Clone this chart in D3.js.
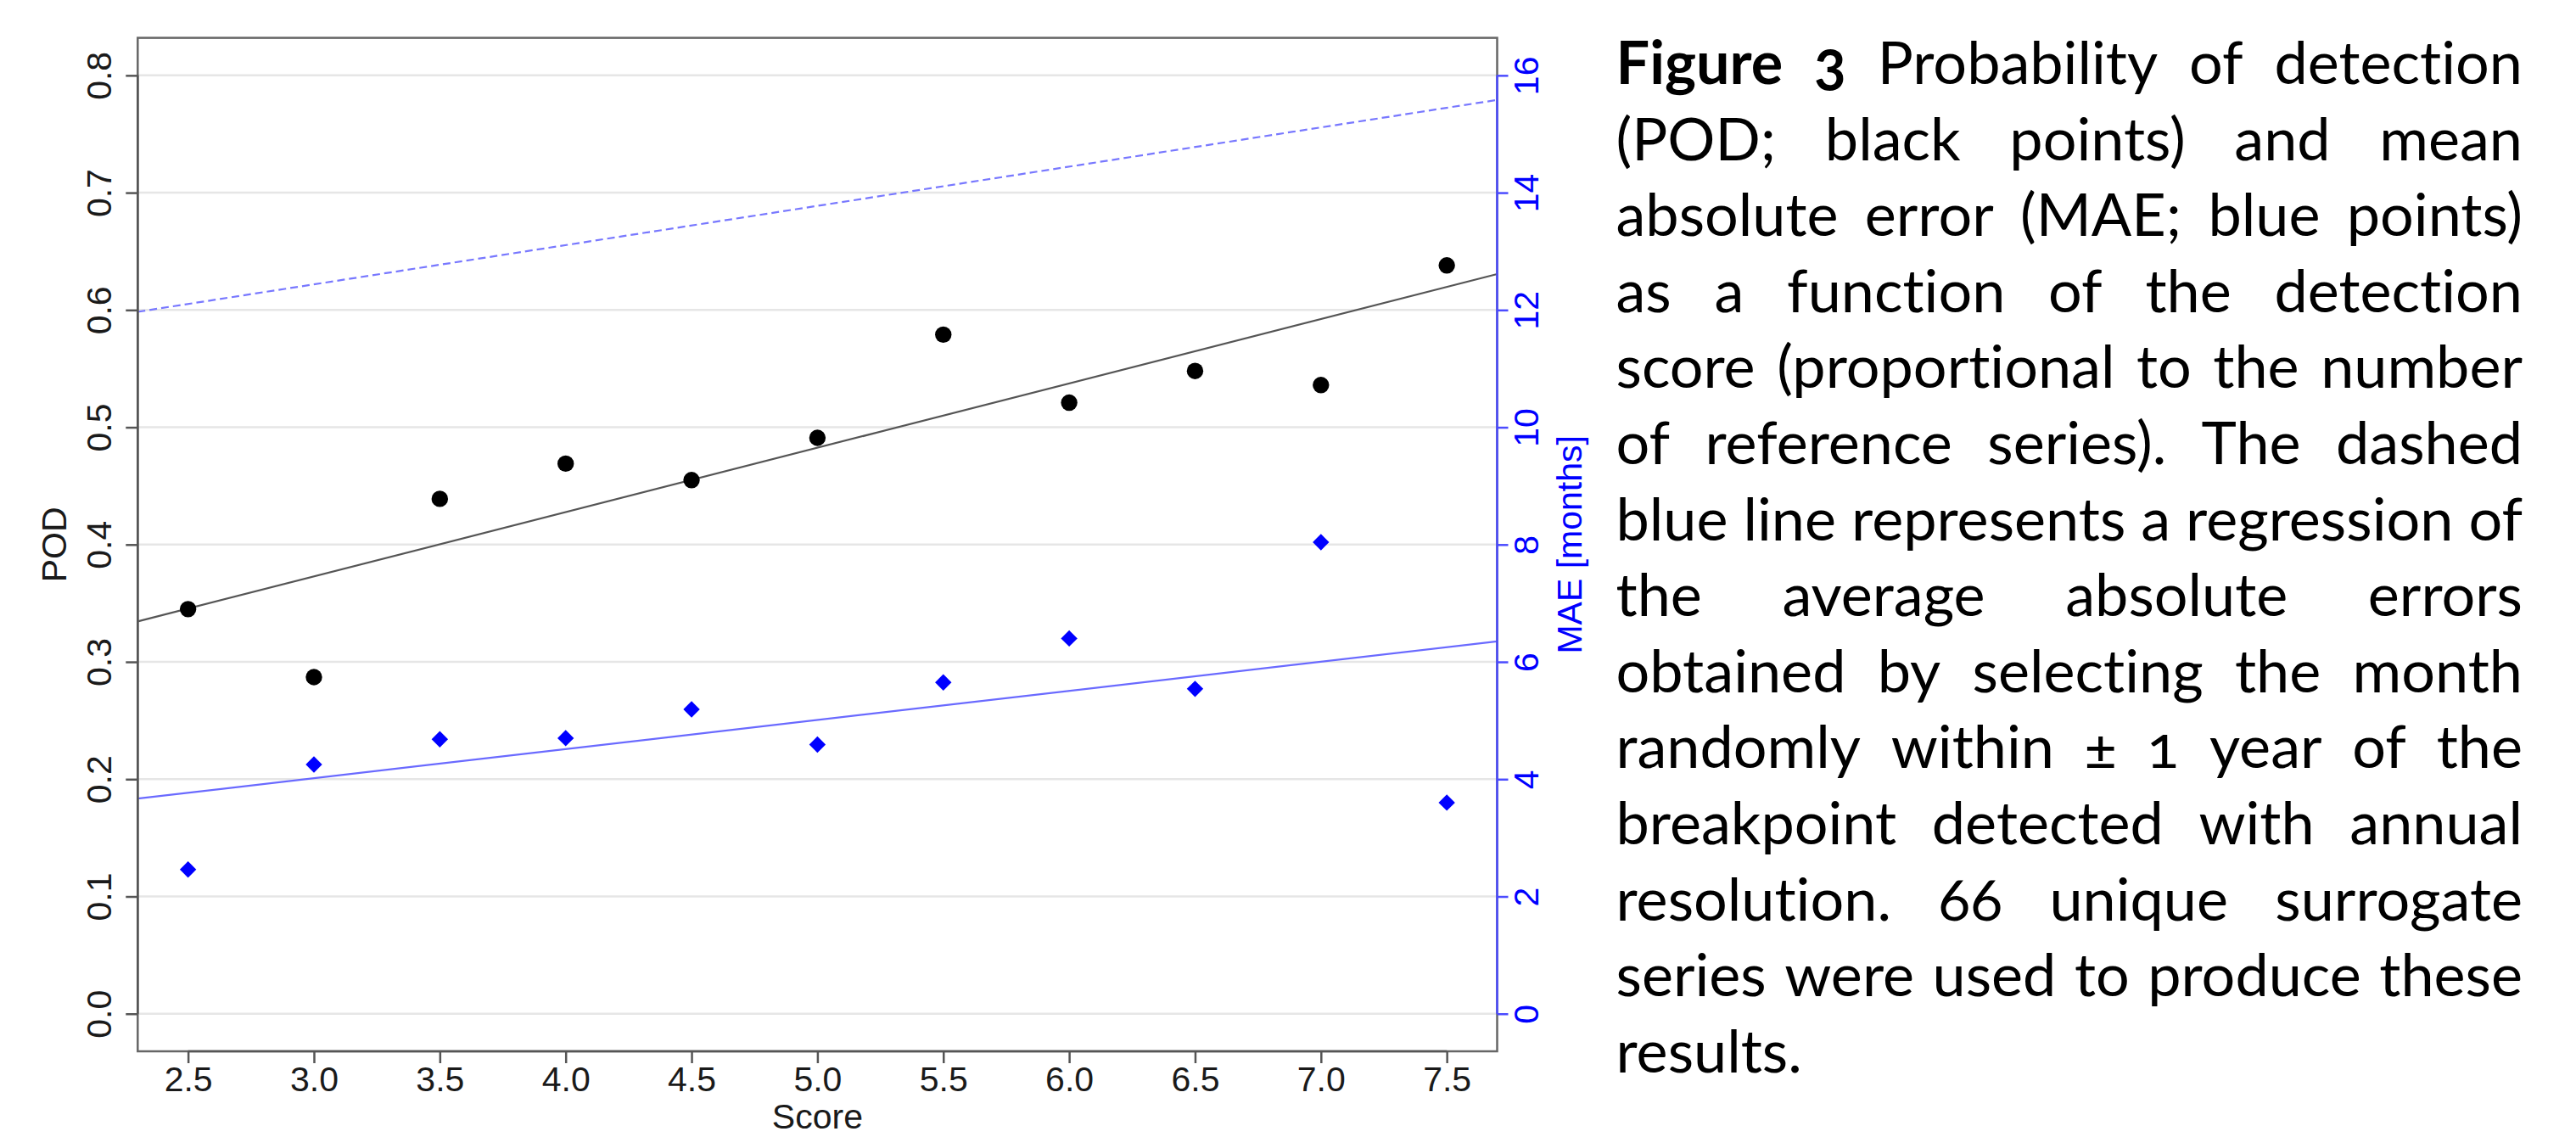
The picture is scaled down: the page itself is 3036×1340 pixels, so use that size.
<!DOCTYPE html>
<html>
<head>
<meta charset="utf-8">
<script src="https://cdn.jsdelivr.net/npm/d3@7"></script>
<style>
  html, body { margin: 0; padding: 0; background: #fff; }
  svg { display: block; }
</style>
</head>
<body>
<svg id="chart" width="3036" height="1340"></svg>
<script>
// detection score classes (x)
const scores = [2.5, 3.0, 3.5, 4.0, 4.5, 5.0, 5.5, 6.0, 6.5, 7.0, 7.5];
// probability of detection (black points)
const podValues = [0.345, 0.287, 0.439, 0.469, 0.455, 0.491, 0.579, 0.521, 0.548, 0.536, 0.638];
// mean absolute error in months (blue points)
const maeValues = [2.46, 4.25, 4.68, 4.70, 5.19, 4.59, 5.65, 6.40, 5.54, 8.04, 3.60];
// regression of MAE for a random month within +-1 year (dashed line)
const randomMaeIntercept = 10.43;
const randomMaeSlope = 0.669;

const podTicks = [0, 0.1, 0.2, 0.3, 0.4, 0.5, 0.6, 0.7, 0.8];
const maeTicks = [0, 2, 4, 6, 8, 10, 12, 14, 16];

const captionLines = [
  "Figure 3 Probability of detection",
  "(POD; black points) and mean",
  "absolute error (MAE; blue points)",
  "as a function of the detection",
  "score (proportional to the number",
  "of reference series). The dashed",
  "blue line represents a regression of",
  "the average absolute errors",
  "obtained by selecting the month",
  "randomly within \u00b1 1 year of the",
  "breakpoint detected with annual",
  "resolution. 66 unique surrogate",
  "series were used to produce these",
  "results."
];

const svg = d3.select('#chart');
const plot = { left: 162.3, right: 1764.5, top: 44.6, bottom: 1239 };
const chartFont = "'Liberation Sans', Arial, Helvetica, sans-serif";
const fontSize = 41;

// R style axes: data range padded by 4% on each side
const pad = ([a, b]) => { const r = b - a; return [a - 0.04 * r, b + 0.04 * r]; };

const x = d3.scaleLinear().domain(pad(d3.extent(scores))).range([plot.left, plot.right]);
const yPod = d3.scaleLinear().domain(pad([0, 0.8])).range([plot.bottom, plot.top]);
const yMae = d3.scaleLinear().domain(pad([0, 16])).range([plot.bottom, plot.top]);

// least squares fit
function fit(xs, ys) {
  const mx = d3.mean(xs), my = d3.mean(ys);
  const sxy = d3.sum(xs, (v, i) => (v - mx) * (ys[i] - my));
  const sxx = d3.sum(xs, v => (v - mx) * (v - mx));
  const slope = sxy / sxx;
  return { intercept: my - slope * mx, slope };
}
const podFit = fit(scores, podValues);
const maeFit = fit(scores, maeValues);
const xEnds = x.domain();

// grid
svg.append('g')
  .selectAll('line')
  .data(podTicks)
  .join('line')
    .attr('x1', plot.left).attr('x2', plot.right)
    .attr('y1', d => yPod(d)).attr('y2', d => yPod(d))
    .attr('stroke', '#e6e6e6')
    .attr('stroke-width', 2.5);

// regression lines
const line = (scale, f) => d3.line()
  .x(d => x(d))
  .y(d => scale(f.intercept + f.slope * d));

svg.append('path')
  .datum(xEnds)
  .attr('fill', 'none')
  .attr('stroke', '#7878ff')
  .attr('stroke-width', 2.2)
  .attr('stroke-dasharray', '9,5')
  .attr('d', line(yMae, { intercept: randomMaeIntercept, slope: randomMaeSlope }));

svg.append('path')
  .datum(xEnds)
  .attr('fill', 'none')
  .attr('stroke', '#555')
  .attr('stroke-width', 2.2)
  .attr('d', line(yPod, podFit));

svg.append('path')
  .datum(xEnds)
  .attr('fill', 'none')
  .attr('stroke', '#6a6aff')
  .attr('stroke-width', 2.2)
  .attr('d', line(yMae, maeFit));

// points
svg.append('g')
  .selectAll('circle')
  .data(scores)
  .join('circle')
    .attr('cx', d => x(d))
    .attr('cy', (d, i) => yPod(podValues[i]))
    .attr('r', 9.7)
    .attr('fill', '#000');

svg.append('g')
  .selectAll('path')
  .data(scores)
  .join('path')
    .attr('d', d3.symbol(d3.symbolSquare, 188))
    .attr('transform', (d, i) => `translate(${x(d)},${yMae(maeValues[i])}) rotate(45)`)
    .attr('fill', '#0000ff');

// box
svg.append('rect')
  .attr('x', plot.left).attr('y', plot.top)
  .attr('width', plot.right - plot.left).attr('height', plot.bottom - plot.top)
  .attr('fill', 'none')
  .attr('stroke', '#666')
  .attr('stroke-width', 2.5);

// axes
function styleAxis(g, color, textColor) {
  g.attr('font-family', chartFont).attr('font-size', fontSize);
  g.select('.domain').attr('stroke', color).attr('stroke-width', 2.5);
  g.selectAll('.tick line').attr('stroke', color).attr('stroke-width', 2.5);
  g.selectAll('.tick text').attr('fill', textColor);
}

const leftAxis = svg.append('g')
  .attr('transform', `translate(${plot.left},0)`)
  .call(d3.axisLeft(yPod).tickValues(podTicks).tickFormat(d3.format('.1f')).tickSize(14).tickSizeOuter(0))
  .call(g => styleAxis(g, '#555', '#1a1a1a'));
leftAxis.select('.domain').attr('d', `M0,${yPod(0)}V${yPod(0.8)}`);
leftAxis.selectAll('.tick text')
  .attr('x', 0).attr('dy', null)
  .attr('text-anchor', 'middle')
  .attr('transform', 'translate(-31,0) rotate(-90)');

const rightAxis = svg.append('g')
  .attr('transform', `translate(${plot.right},0)`)
  .call(d3.axisRight(yMae).tickValues(maeTicks).tickFormat(d3.format('d')).tickSize(13).tickSizeOuter(0))
  .call(g => styleAxis(g, '#4b4bff', '#0000ff'));
rightAxis.select('.domain').attr('d', `M0,${yMae(0)}V${yMae(16)}`);
rightAxis.selectAll('.tick text')
  .attr('x', 0).attr('dy', null)
  .attr('text-anchor', 'middle')
  .attr('transform', 'translate(48,0) rotate(-90)');

const bottomAxis = svg.append('g')
  .attr('transform', `translate(0,${plot.bottom})`)
  .call(d3.axisBottom(x).tickValues(scores).tickFormat(d3.format('.1f')).tickSize(14).tickSizeOuter(0))
  .call(g => styleAxis(g, '#555', '#1a1a1a'));
bottomAxis.select('.domain').attr('d', `M${x(2.5)},0H${x(7.5)}`);
bottomAxis.selectAll('.tick text').attr('y', 47).attr('dy', null);

// axis titles
const midY = (plot.top + plot.bottom) / 2;
svg.append('text')
  .attr('transform', `translate(78,${midY}) rotate(-90)`)
  .attr('text-anchor', 'middle')
  .attr('font-family', chartFont).attr('font-size', fontSize)
  .attr('fill', '#1a1a1a')
  .text('POD');

svg.append('text')
  .attr('transform', `translate(1864,${midY}) rotate(-90)`)
  .attr('text-anchor', 'middle')
  .attr('font-family', chartFont).attr('font-size', fontSize)
  .attr('fill', '#0000ff')
  .text('MAE [months]');

svg.append('text')
  .attr('x', (plot.left + plot.right) / 2)
  .attr('y', 1330)
  .attr('text-anchor', 'middle')
  .attr('font-family', chartFont).attr('font-size', fontSize)
  .attr('fill', '#1a1a1a')
  .text('Score');

// caption, justified word by word
const cap = { left: 1904.5, right: 2973, firstBaseline: 99, lineStep: 89.6 };
const capFont = "Lato, 'Open Sans', sans-serif";
const capG = svg.append('g')
  .attr('font-family', capFont)
  .attr('fill', '#000')
  .style('font-variant-numeric', 'oldstyle-nums')
  .style('font-variant-ligatures', 'none');

const isBold = (li, wi) => li === 0 && wi < 2;

function measure(str, size, bold) {
  const t = capG.append('text').attr('font-size', size).attr('font-weight', bold ? 700 : 400).text(str);
  const w = t.node().getComputedTextLength();
  t.remove();
  return w;
}

const spaceW = measure('a a', 100, false) - measure('aa', 100, false);
const natural = captionLines.map((ln, li) => {
  const words = ln.split(' ');
  return d3.sum(words, (w, wi) => measure(w, 100, isBold(li, wi))) + (words.length - 1) * spaceW;
});
const capSize = 100 * (cap.right - cap.left) / d3.max(natural);

captionLines.forEach((ln, li) => {
  const words = ln.split(' ');
  const widths = words.map((w, wi) => measure(w, capSize, isBold(li, wi)));
  const last = li === captionLines.length - 1;
  const gap = last || words.length < 2
    ? spaceW * capSize / 100
    : (cap.right - cap.left - d3.sum(widths)) / (words.length - 1);
  let cx = cap.left;
  const t = capG.append('text')
    .attr('y', cap.firstBaseline + li * cap.lineStep)
    .attr('font-size', capSize);
  words.forEach((w, wi) => {
    t.append('tspan')
      .attr('x', cx)
      .attr('font-weight', isBold(li, wi) ? 700 : 400)
      .text(w);
    cx += widths[wi] + gap;
  });
});
</script>
</body>
</html>
